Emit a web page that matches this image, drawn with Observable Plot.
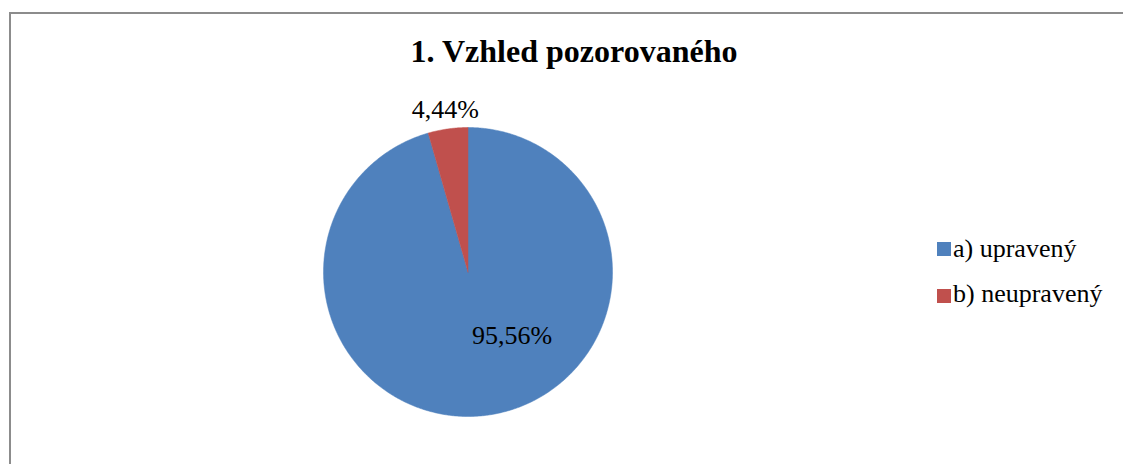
<!DOCTYPE html>
<html>
<head>
<meta charset="utf-8">
<script src="https://cdn.jsdelivr.net/npm/d3@7"></script>
<script src="https://cdn.jsdelivr.net/npm/@observablehq/plot@0.6"></script>
<style>
  html, body { margin: 0; padding: 0; background: #fff; }
  #wrap { position: relative; width: 1123px; height: 464px; overflow: hidden;
          font-family: "Liberation Serif", "Times New Roman", serif; color: #000; }
  #frame { position: absolute; left: 9px; top: 12px; width: 1300px; height: 700px;
           border-left: 2px solid #8c8c8c; border-top: 2px solid #8c8c8c; box-sizing: border-box; }
  #chart { position: absolute; left: 0; top: 0; }
  #title { position: absolute; left: 574px; top: 35px; transform: translateX(-50%);
           font-size: 32px; line-height: 32px; font-weight: bold; white-space: nowrap; }
  .leg { position: absolute; left: 937px; font-size: 26px; line-height: 26px; white-space: nowrap; }
  .leg .sw { position: absolute; left: 0; width: 14px; height: 14px; }
  .leg .tx { position: absolute; left: 16px; top: 0; }
</style>
</head>
<body>
<div id="wrap">
  <div id="frame"></div>
  <div id="chart"></div>
  <div id="title"></div>
  <div id="legend"></div>
</div>
<script>
// ---- data ----
const title = "1. Vzhled pozorovaného";
const categories = ["a) upravený", "b) neupravený"];
const values = [95.56, 4.44];
const valueLabels = ["95,56%", "4,44%"];
const colors = ["#4F81BD", "#C0504D"];

// ---- layout ----
const W = 1123, H = 464;
const cx = 467.5, cy = 271.5, R = 144.5;
const total = d3.sum(values);

// slice polygons in unit-circle coordinates (angle clockwise from 12 o'clock)
const slices = [];
let acc = 0;
values.forEach((v, i) => {
  const a0 = acc / total * 2 * Math.PI;
  acc += v;
  const a1 = acc / total * 2 * Math.PI;
  const n = Math.max(2, Math.ceil((a1 - a0) / (Math.PI / 360)));
  const pts = [{x: 0, y: 0, cat: categories[i]}];
  for (let k = 0; k <= n; k++) {
    const a = a0 + (a1 - a0) * k / n;
    pts.push({x: Math.sin(a), y: Math.cos(a), cat: categories[i]});
  }
  pts.push({x: 0, y: 0, cat: categories[i]});
  slices.push({pts, a0, a1, i});
});

// label placement (polar: angle in degrees clockwise from top, radius in R units)
const labelPolar = [{deg: 145.5, r: 0.538}, {deg: null, r: 1.133}];
const labels = slices.map((s, i) => {
  const a = labelPolar[i].deg == null ? (s.a0 + s.a1) / 2 : labelPolar[i].deg * Math.PI / 180;
  return {x: labelPolar[i].r * Math.sin(a), y: labelPolar[i].r * Math.cos(a), text: valueLabels[i]};
});

const xDomain = [-cx / R, (W - cx) / R];
const yDomain = [-(H - cy) / R, cy / R];

const marks = slices.map((s, i) =>
  Plot.line(s.pts, {x: "x", y: "y", fill: colors[i], stroke: colors[i], strokeWidth: 0.5})
);
marks.push(Plot.text(labels, {
  x: "x", y: "y", text: "text", fontSize: 26, fill: "#000",
  fontFamily: '"Liberation Serif", "Times New Roman", serif'
}));

const plot = Plot.plot({
  width: W, height: H,
  margin: 0,
  x: {domain: xDomain, range: [0, W], axis: null},
  y: {domain: yDomain, range: [H, 0], axis: null},
  style: {background: "transparent", overflow: "visible"},
  marks
});
document.getElementById("chart").appendChild(plot);

document.getElementById("title").textContent = title;

const legTops = [236, 281];
const swTops = [242, 289];
const legend = document.getElementById("legend");
categories.forEach((c, i) => {
  const item = document.createElement("div");
  item.className = "leg";
  item.style.top = legTops[i] + "px";
  const sw = document.createElement("div");
  sw.className = "sw";
  sw.style.background = colors[i];
  sw.style.top = (swTops[i] - legTops[i]) + "px";
  const tx = document.createElement("div");
  tx.className = "tx";
  tx.textContent = c;
  item.appendChild(sw);
  item.appendChild(tx);
  legend.appendChild(item);
});
</script>
</body>
</html>
